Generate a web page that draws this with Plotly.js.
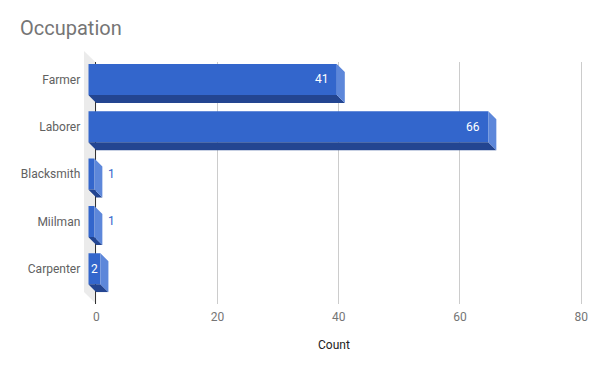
<!DOCTYPE html>
<html>
<head>
<meta charset="utf-8">
<script src="https://cdn.plot.ly/plotly-3.0.1.min.js"></script>
<style>html,body{margin:0;padding:0;background:#fff;}#chart{width:600px;height:371px;}</style>
</head>
<body>
<div id="chart"></div>
<script>
// ---- data ----
var categories = ["Farmer", "Laborer", "Blacksmith", "Miilman", "Carpenter"];
var counts = [41, 66, 1, 1, 2];
var xTickVals = [0, 20, 40, 60, 80];
var xTickText = ["0", "20", "40", "60", "80"];
var chartTitle = "Occupation";
var xTitle = "Count";

// ---- geometry (pixels) ----
var W = 600, H = 371;
var DEPTH = 8;                       // bar depth in px
var XMAX = 80, XPAD = 0.5;           // small pad so the last gridline is drawn
var back = {x0: 96.3, x1: 581.2, y0: 62, y1: 304};
var front = {x0: 88.3, x1: 573.2, y0: 55.85, y1: 292.35};
var BARW = 0.655;
var COL_FRONT = "#3366cc", COL_SIDE = "#5d87da", COL_BOTTOM = "#234591";

function px(x){return x / W;}
function py(y){return 1 - y / H;}

var idx = categories.map(function(_, i){return i;});
var pxPerUnit = (front.x1 - front.x0) / XMAX;
var pxPerCat = (front.y1 - front.y0) / categories.length;
var DX = DEPTH / pxPerUnit, DY = DEPTH / pxPerCat, h = BARW / 2;
var backX1 = back.x1 + XPAD * pxPerUnit;

// side and bottom faces
var sideX = [], sideY = [], botX = [], botY = [];
counts.forEach(function(v, i){
  sideX.push(v, v + DX, v + DX, v, v, null);
  sideY.push(i - h, i - h + DY, i + h + DY, i + h, i - h, null);
  botX.push(0, v, v + DX, DX, 0, null);
  botY.push(i + h, i + h, i + h + DY, i + h + DY, i + h, null);
});

var traces = [
  // back plane (grid / axis) subplot holder
  {type: "scatter", mode: "none", x: [], y: [], xaxis: "x", yaxis: "y", hoverinfo: "skip"},
  {type: "bar", orientation: "h", x: counts, y: idx, width: BARW,
   marker: {color: COL_FRONT, line: {width: 0}}, xaxis: "x2", yaxis: "y2",
   hoverinfo: "skip"},
  {type: "scatter", mode: "lines", x: botX, y: botY, fill: "toself",
   fillcolor: COL_BOTTOM, line: {width: 0, color: COL_BOTTOM},
   xaxis: "x2", yaxis: "y2", hoverinfo: "skip"},
  {type: "scatter", mode: "lines", x: sideX, y: sideY, fill: "toself",
   fillcolor: COL_SIDE, line: {width: 0, color: COL_SIDE},
   xaxis: "x2", yaxis: "y2", hoverinfo: "skip"}
];

// value labels
var annotations = [];
counts.forEach(function(v, i){
  var label = String(v);
  var tw = label.length * 7;
  var barPx = v * pxPerUnit;
  var a = {x: v, y: i, xref: "x2", yref: "y2", text: label, showarrow: false,
           font: {family: "Roboto", size: 12, color: "#ffffff"}, yanchor: "middle"};
  if (barPx > 30) {
    a.xanchor = "right"; a.xshift = -6;
  } else if (barPx >= tw + 4) {
    a.x = v / 2; a.xanchor = "center";
  } else {
    a.xanchor = "left"; a.xshift = DEPTH + 4; a.font.color = COL_FRONT;
  }
  annotations.push(a);
});
annotations.push({text: xTitle, xref: "paper", yref: "paper", x: px(333.5), y: py(345),
  xanchor: "center", yanchor: "middle", showarrow: false,
  font: {family: "Roboto", size: 12, color: "#222222"}});

var layout = {
  width: W, height: H,
  margin: {l: 0, r: 0, t: 0, b: 0},
  paper_bgcolor: "#ffffff", plot_bgcolor: "rgba(0,0,0,0)",
  showlegend: false, hovermode: false,
  font: {family: "Roboto", size: 12, color: "#666666"},
  title: {text: chartTitle, x: px(20), xanchor: "left", xref: "paper",
          y: py(28), yref: "container", yanchor: "middle",
          font: {family: "Roboto", size: 20, color: "#757575"}},
  xaxis: {domain: [px(back.x0), px(backX1)], range: [0, XMAX + XPAD], anchor: "y",
          tickvals: xTickVals, ticktext: xTickText, showgrid: true, gridcolor: "#cccccc",
          zeroline: false, showline: false, ticks: "", ticklabelstandoff: 4, fixedrange: true,
          tickfont: {family: "Roboto", size: 12, color: "#757575"}},
  yaxis: {domain: [py(back.y1), py(back.y0)], range: [0, 1], anchor: "x",
          showgrid: false, zeroline: false, showticklabels: false, ticks: "",
          showline: true, linecolor: "#333333", linewidth: 1, fixedrange: true},
  xaxis2: {domain: [px(front.x0), px(front.x1)], range: [0, XMAX], anchor: "y2",
           visible: false, fixedrange: true},
  yaxis2: {domain: [py(front.y1), py(front.y0)], range: [categories.length - 0.5, -0.5],
           anchor: "x2", tickvals: idx, ticktext: categories, showgrid: false,
           zeroline: false, showline: false, ticks: "", ticklabelstandoff: 7,
           tickfont: {family: "Roboto", size: 12, color: "#616161"}, fixedrange: true},
  shapes: [{type: "path", xref: "paper", yref: "paper", layer: "below",
            path: "M" + px(84) + "," + py(51) + " L" + px(96.3) + "," + py(63) +
                  " L" + px(96.3) + "," + py(304) + " L" + px(84) + "," + py(292) + " Z",
            fillcolor: "#ebebeb", line: {width: 0}}],
  annotations: annotations
};

Plotly.newPlot("chart", traces, layout, {displayModeBar: false, staticPlot: true});
</script>
</body>
</html>
